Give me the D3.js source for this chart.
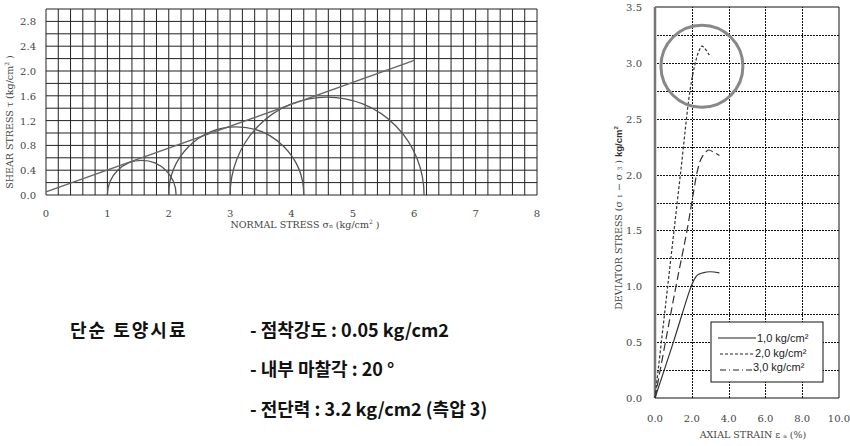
<!DOCTYPE html>
<html>
<head>
<meta charset="utf-8">
<script src="https://cdn.jsdelivr.net/npm/d3@7"></script>
<style>
  body { margin: 0; background: #fff; }
  svg { display: block; }
  .serif { font-family: "DejaVu Serif", "Liberation Serif", serif; }
</style>
</head>
<body>
<svg width="850" height="446"></svg>
<script>
// Mohr circles (left chart)
const sigma3 = [1.0, 2.0, 3.0];
const sigma1 = [2.12, 4.2, 6.16];
const envelopeSigma = [0, 6.0];
const envelopeTau = [0.05, 2.17];
const mohrXTicks = [0, 1, 2, 3, 4, 5, 6, 7, 8];
const mohrYTicks = [0.0, 0.4, 0.8, 1.2, 1.6, 2.0, 2.4, 2.8];

// stress-strain curves (right chart)
const strain1 = [0, 1.0, 1.9, 2.1, 2.3, 2.6, 3.0, 3.5];
const stress1 = [0, 0.5, 0.97, 1.05, 1.1, 1.12, 1.13, 1.12];
const strain2 = [0, 0.69, 1.38, 1.9, 2.15, 2.35, 2.55, 2.7, 2.95];
const stress2 = [0, 1.0, 2.0, 2.75, 2.97, 3.09, 3.15, 3.13, 3.07];
const strain3 = [0, 1.14, 1.74, 2.1, 2.3, 2.5, 2.75, 2.9, 3.2, 3.5];
const stress3 = [0, 1.0, 1.5, 1.85, 2.03, 2.14, 2.2, 2.22, 2.2, 2.17];
const legendLabels = ["1,0 kg/cm²", "2,0 kg/cm²", "3,0 kg/cm²"];
const strainTicks = [0, 2, 4, 6, 8, 10];
const devTicks = [0, 0.5, 1.0, 1.5, 2.0, 2.5, 3.0, 3.5];
const devGrid = [0.25, 0.5, 0.75, 1.0, 1.25, 1.5, 1.75, 2.0, 2.25, 2.5, 2.75, 3.0, 3.25];

const notes = [
  "- 점착강도 : 0.05 kg/cm2",
  "- 내부 마찰각 : 20 °",
  "- 전단력 : 3.2 kg/cm2 (측압 3)"
];

const svg = d3.select("svg");

// dot pattern for the horizontal dotted grid of the right chart
const pat = svg.append("defs").append("pattern")
  .attr("id", "hdots").attr("patternUnits", "userSpaceOnUse")
  .attr("width", 3).attr("height", 1);
pat.append("rect").attr("width", 2).attr("height", 1).attr("fill", "#111");

// ---------- left: Mohr circles ----------
const x = d3.scaleLinear().domain([0, 8]).range([46, 537]);
const y = d3.scaleLinear().domain([0, 3]).range([195, 9]);
const left = svg.append("g");

left.append("g").selectAll("line")
  .data(d3.range(0, 8.001, 0.2))
  .join("line")
  .attr("x1", d => x(d)).attr("x2", d => x(d))
  .attr("y1", y(0)).attr("y2", y(3))
  .attr("stroke", "#222").attr("stroke-width", 1);
left.append("g").selectAll("line")
  .data(d3.range(0, 3.001, 0.2))
  .join("line")
  .attr("y1", d => y(d)).attr("y2", d => y(d))
  .attr("x1", x(0)).attr("x2", x(8))
  .attr("stroke", "#222").attr("stroke-width", 1);

left.append("g").attr("class", "serif").selectAll("text")
  .data(mohrXTicks)
  .join("text")
  .attr("x", d => x(d)).attr("y", 217)
  .attr("text-anchor", "middle")
  .attr("font-size", 10).attr("fill", "#444")
  .text(d => d);
left.append("g").attr("class", "serif").selectAll("text")
  .data(mohrYTicks)
  .join("text")
  .attr("x", 36).attr("y", d => y(d) + 4)
  .attr("text-anchor", "end")
  .attr("font-size", 10).attr("fill", "#444")
  .text(d => d.toFixed(1));

left.append("text").attr("class", "serif")
  .attr("x", 305).attr("y", 228)
  .attr("text-anchor", "middle")
  .attr("font-size", 9.5).attr("fill", "#444")
  .html('NORMAL STRESS  σ<tspan font-size="6">n</tspan>  (kg/cm<tspan font-size="6" dy="-4">2</tspan><tspan dy="4"> )</tspan>');

left.append("text").attr("class", "serif")
  .attr("transform", "translate(13,122) rotate(-90)")
  .attr("text-anchor", "middle")
  .attr("font-size", 9.5).attr("fill", "#444")
  .html('SHEAR STRESS  τ  (kg/cm<tspan font-size="6" dy="-4">2</tspan><tspan dy="4"> )</tspan>');

left.append("g").selectAll("path")
  .data(sigma3.map((s, i) => ({ s3: s, s1: sigma1[i] })))
  .join("path")
  .attr("d", d => {
    const c = (d.s1 + d.s3) / 2, r = (d.s1 - d.s3) / 2;
    const rx = x(c + r) - x(c), ry = y(0) - y(r);
    return `M${x(d.s3)},${y(0)} A${rx},${ry} 0 0 1 ${x(d.s1)},${y(0)}`;
  })
  .attr("fill", "none").attr("stroke", "#555").attr("stroke-width", 1.3);

left.append("path")
  .datum(envelopeSigma.map((s, i) => [s, envelopeTau[i]]))
  .attr("d", d3.line().x(d => x(d[0])).y(d => y(d[1])))
  .attr("fill", "none").attr("stroke", "#666").attr("stroke-width", 1.4);

// ---------- right: deviator stress vs axial strain ----------
const sx = d3.scaleLinear().domain([0, 10]).range([655, 839]);
const sy = d3.scaleLinear().domain([0, 3.5]).range([398, 7]);
const right = svg.append("g");

// dotted grid
right.append("g").selectAll("line")
  .data(d3.range(2, 10, 2))
  .join("line")
  .attr("x1", d => Math.round(sx(d)) + 0.5).attr("x2", d => Math.round(sx(d)) + 0.5)
  .attr("y1", sy(0)).attr("y2", sy(3.5))
  .attr("stroke", "#111").attr("stroke-width", 1)
  .attr("stroke-dasharray", "2,1");
right.append("g").selectAll("rect")
  .data(devGrid)
  .join("rect")
  .attr("x", sx(0)).attr("width", sx(10) - sx(0))
  .attr("y", d => Math.round(sy(d))).attr("height", 1)
  .attr("fill", "url(#hdots)");

right.append("path")
  .attr("d", `M${sx(0)},${sy(3.5)} H${sx(10)} V${sy(0)} H${sx(0)}`)
  .attr("fill", "none").attr("stroke", "#111").attr("stroke-width", 1);
right.append("line")
  .attr("x1", sx(0)).attr("x2", sx(0)).attr("y1", sy(0)).attr("y2", sy(3.5))
  .attr("stroke", "#777").attr("stroke-width", 2.5);

right.append("g").attr("class", "serif").selectAll("text")
  .data(strainTicks)
  .join("text")
  .attr("x", d => sx(d)).attr("y", 422)
  .attr("text-anchor", "middle")
  .attr("font-size", 10).attr("fill", "#444")
  .text(d => d.toFixed(1));
right.append("g").attr("class", "serif").selectAll("text")
  .data(devTicks)
  .join("text")
  .attr("x", 642).attr("y", d => sy(d) + 4)
  .attr("text-anchor", "end")
  .attr("font-size", 10).attr("fill", "#444")
  .text(d => d.toFixed(1));

right.append("text").attr("class", "serif")
  .attr("x", 753).attr("y", 438)
  .attr("text-anchor", "middle")
  .attr("font-size", 9.5).attr("fill", "#444")
  .html('AXIAL STRAIN  ε <tspan font-size="6">a</tspan> (%)');
right.append("text").attr("class", "serif")
  .attr("transform", "translate(622,218) rotate(-90)")
  .attr("text-anchor", "middle")
  .attr("font-size", 9.5).attr("fill", "#444")
  .html('DEVIATOR STRESS (σ <tspan font-size="6">1</tspan> − σ <tspan font-size="6">3</tspan> ) <tspan font-family="Liberation Sans" font-weight="bold" fill="#333">kg/cm<tspan font-size="6" dy="-4">2</tspan></tspan>');

const curves = [
  { xs: strain1, ys: stress1, dash: null },
  { xs: strain2, ys: stress2, dash: "3,2" },
  { xs: strain3, ys: stress3, dash: "8,4" }
];
const curveLine = d3.line().x(d => sx(d[0])).y(d => sy(d[1])).curve(d3.curveCatmullRom);
right.append("g").selectAll("path")
  .data(curves)
  .join("path")
  .attr("d", d => curveLine(d.xs.map((v, i) => [v, d.ys[i]])))
  .attr("fill", "none").attr("stroke", "#333").attr("stroke-width", 1.2)
  .attr("stroke-dasharray", d => d.dash);

// highlight ring around the peak
right.append("circle")
  .attr("cx", sx(2.55)).attr("cy", sy(2.97)).attr("r", 41)
  .attr("fill", "none").attr("stroke", "#888").attr("stroke-width", 3);

// legend
const lg = right.append("g").attr("transform", "translate(711,322)");
lg.append("rect").attr("width", 112).attr("height", 60)
  .attr("fill", "#fff").attr("stroke", "#111");
const legendDash = [null, "3,2", "6,3,1,3"];
const lineY = [16, 32, 48];
const textY = [20, 35, 49];
const textX = [46, 44, 42];
lg.selectAll("line")
  .data(legendLabels)
  .join("line")
  .attr("x1", (d, i) => i === 0 ? 7 : 9).attr("x2", (d, i) => textX[i] - 1)
  .attr("y1", (d, i) => lineY[i]).attr("y2", (d, i) => lineY[i])
  .attr("stroke", "#222").attr("stroke-width", 1.1)
  .attr("stroke-dasharray", (d, i) => legendDash[i]);
lg.selectAll("text")
  .data(legendLabels)
  .join("text")
  .attr("x", (d, i) => textX[i]).attr("y", (d, i) => textY[i])
  .attr("font-family", "Liberation Sans, Arial, sans-serif")
  .attr("font-size", 11).attr("fill", "#222")
  .text(d => d);

// ---------- notes ----------
const notesG = svg.append("g")
  .attr("font-family", "'Noto Sans CJK KR', sans-serif")
  .attr("font-weight", "bold").attr("fill", "#111");
notesG.append("text").attr("x", 70).attr("y", 337)
  .attr("font-size", 18).attr("letter-spacing", 2).text("단순 토양시료");
notesG.selectAll("text.note")
  .data(notes)
  .join("text").attr("class", "note")
  .attr("x", 250).attr("y", (d, i) => [337, 376, 416][i])
  .attr("font-size", 18)
  .text(d => d);
</script>
</body>
</html>
